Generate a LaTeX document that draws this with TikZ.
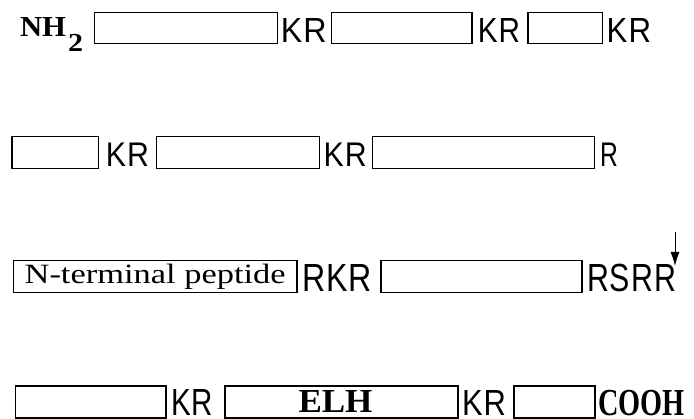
\documentclass[tikz,border=0pt]{standalone}
\usepackage{fontspec}
\usepackage{graphicx}
\setmainfont{Liberation Serif}
\newfontfamily\sansK{Liberation Sans}
\usetikzlibrary{arrows.meta}
\newsavebox\fitA
\newsavebox\fitB
\newcommand\fitt[4]{\sbox\fitA{\fontsize{30}{30}\selectfont#3#4}\sbox\fitB{\fontsize{30}{30}\selectfont#3H}%
\pgfmathsetmacro\fitx{#1/\the\wd\fitA}\pgfmathsetmacro\fity{#2/\the\ht\fitB}%
\scalebox{\fitx}[\fity]{\usebox\fitA}}
\newcommand\kr[3]{\fitt{#1}{#2}{\sansK}{#3}}
\begin{document}
\begin{tikzpicture}[x=1pt,y=-1pt,
  seg/.style={draw=black,line width=1.1pt,rectangle,anchor=north west,inner sep=0pt,outer sep=0pt},
  lbl/.style={anchor=base west,inner sep=0pt,outer sep=0pt}]
\useasboundingbox (0,0) rectangle (694,419);
% Row 1
\node[lbl] (nh) at (20,37) {\fitt{46}{19}{\bfseries}{NH}};
\node[lbl] (two) at (68,51.5) {\fitt{15}{17}{\bfseries}{2}};
\node[seg,minimum width=183.1pt,minimum height=31pt] (b11) at (94.7,12.3) {};
\node[lbl] (k11) at (280.9,42.5) {\kr{45.8}{24}{K\kern1pt R}};
\node[seg,minimum width=140.9pt,minimum height=31pt] (b12) at (331.1,12.3) {};
\node[lbl] (k12) at (477.8,42.5) {\kr{42.2}{24}{K\kern1pt R}};
\node[seg,minimum width=74.2pt,minimum height=31pt] (b13) at (528,12.3) {};
\node[lbl] (k13) at (606.7,42.5) {\kr{44.4}{24}{K\kern1pt R}};
% Row 2
\node[seg,minimum width=86.7pt,minimum height=31.6pt] (b21) at (12,136.7) {};
\node[lbl] (k21) at (105.8,167) {\kr{43.1}{23.5}{K\kern1pt R}};
\node[seg,minimum width=162.7pt,minimum height=31.6pt] (b22) at (156.4,136.7) {};
\node[lbl] (k22) at (323.6,167) {\kr{43.1}{23.5}{K\kern1pt R}};
\node[seg,minimum width=221.8pt,minimum height=31.6pt] (b23) at (372.4,136.7) {};
\node[lbl] (k23) at (600,167) {\kr{17.8}{23.5}{R}};
% Row 3
\node[seg,minimum width=283.7pt,minimum height=32pt] (b31) at (13.3,260.7)
  {\raisebox{-1pt}{\fitt{261}{18.3}{}{N-terminal peptide}}};
\node[lbl] (k31) at (302,292) {\kr{70}{27}{R\kern1pt K\kern1pt R}};
\node[seg,minimum width=201pt,minimum height=32pt] (b32) at (381,260.7) {};
\node[lbl] (k32) at (587,292) {\kr{89}{27}{R\kern1pt S\kern1pt R\kern1pt R}};
\coordinate (arrtop) at (675,232);
\coordinate (arrtip) at (675,266);
\draw[line width=1pt,-{Latex[length=14pt,width=9pt]}] (arrtop) -- (arrtip);
% Row 4
\node[seg,minimum width=150.4pt,minimum height=32pt] (b41) at (15.6,386) {};
\node[lbl] (k41) at (171,415.5) {\kr{42}{26}{K\kern1pt R}};
\node[seg,minimum width=233pt,minimum height=32pt] (b42) at (225,386)
  {\hspace*{-12pt}\fitt{74}{22}{\bfseries}{ELH}};
\node[lbl] (k42) at (462,415.5) {\kr{44}{25}{K\kern1pt R}};
\node[seg,minimum width=81pt,minimum height=32pt] (b43) at (514,386) {};
\node[lbl] (cooh) at (598,416) {\fitt{86.5}{25}{\bfseries}{COOH}};
\end{tikzpicture}
\end{document}
